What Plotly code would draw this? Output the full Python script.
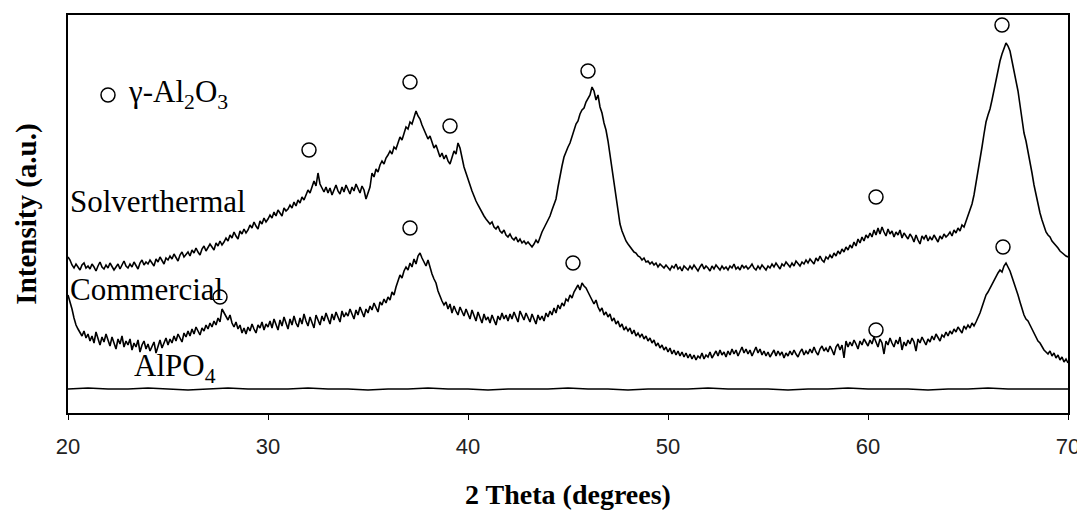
import plotly.graph_objects as go

# 2-theta grid for the two noisy patterns (0.1 degree step, 20..70)
two_theta = [round(20 + 0.1 * i, 1) for i in range(501)]

solverthermal = [
    156, 153, 148, 145, 149, 146, 143, 148, 150, 145,
    147, 144, 149, 146, 142, 147, 151, 146, 144, 148,
    145, 150, 147, 143, 146, 149, 144, 148, 152, 147,
    145, 149, 146, 151, 148, 144, 150, 153, 148, 151,
    149, 153, 150, 147, 154, 151, 156, 152, 149, 155,
    153, 157, 154, 159, 156, 152, 158, 161, 156, 159,
    161, 157, 163, 160, 165, 161, 158, 164, 167, 162,
    165, 169, 166, 163, 170, 167, 172, 168, 171, 175,
    172, 178, 175, 181, 177, 174, 182, 179, 184, 180,
    183, 188, 185, 191, 187, 184, 192, 189, 195, 191,
    194, 198, 195, 201, 197, 203, 200, 197, 205, 202,
    204, 208, 205, 211, 207, 213, 210, 216, 213, 219,
    223, 220, 226, 232, 227, 240, 229, 224, 221, 226,
    220, 225, 218, 223, 228, 222, 219, 226, 221, 228,
    224, 219, 226, 222, 229, 224, 220, 227, 223, 214,
    221, 226, 240, 236, 244, 241, 248, 252, 249, 255,
    258, 262, 259, 266, 264, 271, 276, 273, 281, 286,
    284, 291, 289, 296, 302, 297, 294, 288, 283, 278,
    274, 277, 270, 265, 268, 262, 256, 260, 254, 258,
    252, 249, 256, 262, 259, 270, 265, 255, 246, 240,
    235, 228, 222, 216, 212, 208, 204, 201, 197, 194,
    192, 189, 191, 186, 184, 187, 182, 180, 183, 178,
    176, 179, 175, 173, 176, 171, 174, 170, 172, 169,
    171, 168, 166, 169, 173, 170, 176, 181, 185, 189,
    192, 197, 203, 209, 214, 226, 238, 247, 256, 262,
    266, 270, 276, 284, 289, 292, 299, 303, 305, 311,
    314, 318, 326, 322, 313, 318, 306, 300, 290, 283,
    272, 258, 242, 228, 212, 200, 189, 182, 176, 172,
    169, 166, 164, 161, 160, 157, 156, 153, 155, 151,
    152, 149, 151, 148, 150, 146, 149, 147, 145, 148,
    146, 143, 147, 145, 149, 144, 146, 142, 147, 145,
    143, 147, 144, 148, 145, 142, 146, 149, 144, 147,
    145, 142, 147, 144, 148, 145, 143, 147, 144, 146,
    143, 147, 145, 149, 144, 146, 143, 148, 145, 147,
    144, 146, 149, 145, 143, 147, 144, 148, 146, 143,
    147, 145, 149, 146, 150, 147, 144, 149, 147, 151,
    148, 146, 150, 147, 152, 149, 147, 151, 149, 153,
    150, 154, 151, 149, 155, 152, 157, 153, 151, 156,
    154, 158, 155, 160, 157, 162, 159, 164, 161, 166,
    163, 168, 165, 171, 167, 174, 170, 176, 172, 178,
    175, 180, 176, 183, 178, 185, 179, 186, 181, 177,
    184, 179, 182, 176, 181, 178, 183, 175, 180, 177,
    174, 179, 176, 171, 178, 173, 169, 177, 174, 178,
    172, 176, 173, 178, 175, 171, 177, 174, 179, 176,
    178, 181, 177, 183, 180, 185, 182, 188, 186, 192,
    198, 203, 209, 218, 229, 240, 253, 266, 279, 291,
    298, 304, 313, 323, 333, 343, 352, 359, 365, 370,
    367, 362, 352, 343, 334, 322, 308, 292, 280, 272,
    262, 250, 240, 228, 218, 208, 200, 193, 187, 181,
    178, 176, 172, 170, 167, 165, 162, 160, 158, 157,
    156,
]

commercial = [
    118, 112, 104, 95, 88, 84, 80, 77, 82, 75,
    79, 72, 77, 70, 81, 74, 68, 76, 71, 79,
    73, 67, 76, 70, 64, 74, 69, 77, 66, 72,
    68, 74, 63, 70, 66, 73, 61, 68, 72, 64,
    69, 62, 67, 71, 60, 66, 73, 65, 70, 75,
    68, 74, 70, 77, 72, 79, 75, 71, 80, 76,
    82, 77, 84, 79, 86, 81, 78, 85, 82, 88,
    84, 90, 86, 92, 88, 95, 91, 104, 100, 97,
    93, 98, 90, 86, 91, 84, 88, 80, 85, 79,
    86, 82, 89, 84, 80, 88, 85, 91, 83, 89,
    86, 92, 85, 94, 88, 83, 93, 87, 96, 89,
    84, 94, 88, 97, 90, 86, 95, 89, 99, 92,
    87, 96, 91, 85, 98, 93, 88, 97, 92, 100,
    94, 89, 99, 93, 101, 95, 91, 102, 96, 100,
    97, 104, 99, 94, 103, 98, 106, 101, 96, 104,
    100, 107, 103, 110, 105, 101, 111, 108, 114, 110,
    116, 113, 121, 118, 126, 133, 138, 135, 142, 146,
    143, 150, 146, 154, 149, 157, 160, 155, 151, 147,
    153, 145, 139, 134, 130, 122, 116, 112, 108, 111,
    104, 109, 100, 107, 102, 98, 106, 101, 97, 104,
    99, 94, 103, 97, 92, 101, 95, 90, 99, 93,
    96, 90, 98, 92, 88, 97, 93, 100, 94, 98,
    92, 99, 94, 101, 96, 91, 102, 97, 93, 100,
    95, 91, 99, 94, 89, 98, 93, 97, 92, 100,
    96, 102, 98, 105, 100, 108, 104, 110, 107, 114,
    112, 118, 115, 121, 124, 128, 123, 130, 127, 125,
    121, 117, 112, 109, 113, 106, 102, 105, 98, 101,
    96, 99, 92, 95, 89, 92, 86, 89, 83, 86,
    82, 85, 79, 83, 77, 80, 76, 79, 74, 77,
    72, 75, 70, 73, 67, 70, 65, 68, 63, 66,
    61, 65, 59, 63, 58, 62, 57, 61, 56, 60,
    55, 59, 54, 58, 53, 57, 55, 60, 54, 58,
    56, 61, 55, 59, 62, 57, 63, 58, 61, 56,
    62, 58, 64, 59, 63, 57, 62, 66, 60, 64,
    59, 63, 57, 62, 66, 60, 64, 58, 62, 57,
    61, 56, 60, 63, 57, 62, 58, 61, 55, 60,
    57, 62, 58, 63, 59, 56, 61, 64, 58, 62,
    59, 64, 60, 66, 61, 58, 64, 67, 62, 65,
    61, 67, 63, 58, 66, 69, 63, 68, 55, 72,
    66, 71, 67, 73, 69, 64, 72, 68, 74, 70,
    67, 73, 69, 76, 71, 66, 74, 70, 59, 72,
    68, 75, 70, 66, 73, 69, 76, 63, 71, 67,
    73, 69, 75, 71, 62, 74, 70, 76, 72, 68,
    74, 71, 77, 73, 79, 75, 72, 78, 76, 81,
    77, 82, 79, 84, 81, 86, 83, 80, 87, 84,
    88, 85, 90, 87, 91, 95, 100, 106, 113, 118,
    121, 125, 128, 133, 136, 140, 143, 141, 147, 150,
    146, 142, 136, 130, 126, 118, 111, 104, 98, 94,
    92, 88, 84, 79, 76, 72, 70, 66, 63, 61,
    59, 62, 57, 60, 55, 58, 53, 56, 51, 54,
    50,
]

# AlPO4: essentially flat, 1 degree step
alpo4_theta = list(range(20, 71))
alpo4 = [24, 25, 24, 24, 25, 24, 23, 24, 25, 24,
         24, 24, 25, 24, 24, 23, 24, 24, 25, 24,
         24, 23, 24, 24, 24, 25, 24, 24, 23, 24,
         24, 24, 25, 24, 24, 24, 23, 24, 24, 25,
         24, 24, 24, 23, 24, 24, 25, 24, 24, 24, 24]

# gamma-Al2O3 reflection markers
solv_marker_theta = [32.05, 37.1, 39.1, 46.0, 60.4, 66.7]
solv_marker_int = [263, 331, 287, 342, 216, 388]
comm_marker_theta = [27.6, 37.1, 45.25, 60.4, 66.75]
comm_marker_int = [116, 185, 150, 83, 166]
legend_marker_theta = [22.0]
legend_marker_int = [318]

x_ticks = [20, 30, 40, 50, 60, 70]

fig = go.Figure()
line_style = dict(color="black", width=1.6)
fig.add_trace(go.Scatter(x=two_theta, y=solverthermal, mode="lines", line=line_style,
                         name="Solverthermal", showlegend=False))
fig.add_trace(go.Scatter(x=two_theta, y=commercial, mode="lines", line=line_style,
                         name="Commercial", showlegend=False))
fig.add_trace(go.Scatter(x=alpo4_theta, y=alpo4, mode="lines", line=line_style,
                         name="AlPO4", showlegend=False))
marker_style = dict(symbol="circle-open", size=14, color="black", line=dict(width=1.5, color="black"))
for xs, ys in [(solv_marker_theta, solv_marker_int),
               (comm_marker_theta, comm_marker_int),
               (legend_marker_theta, legend_marker_int)]:
    fig.add_trace(go.Scatter(x=xs, y=ys, mode="markers", marker=marker_style,
                             showlegend=False, cliponaxis=False, hoverinfo="skip"))

serif = "Liberation Serif, Times New Roman, serif"
ann_font = dict(family=serif, size=31, color="black")
fig.add_annotation(x=20, y=212, xref="x", yref="y", text="Solverthermal", showarrow=False,
                   xanchor="left", yanchor="middle", font=ann_font)
fig.add_annotation(x=20, y=124, xref="x", yref="y", text="Commercial", showarrow=False,
                   xanchor="left", yanchor="middle", font=ann_font)
fig.add_annotation(x=23.2, y=45, xref="x", yref="y", text="AlPO<sub>4</sub>", showarrow=False,
                   xanchor="left", yanchor="middle", font=ann_font)
fig.add_annotation(x=22.9, y=319, xref="x", yref="y", text="γ-Al<sub>2</sub>O<sub>3</sub>",
                   showarrow=False, xanchor="left", yanchor="middle", font=ann_font)

# page body has an 8px margin, so the figure is sized to fit the window from (8, 8)
fig.update_layout(
    width=1077, height=509,
    margin=dict(l=60, r=17, t=7, b=104),
    paper_bgcolor="white", plot_bgcolor="white",
    showlegend=False,
)
fig.update_xaxes(
    range=[20, 70], tickvals=x_ticks, ticktext=[str(t) for t in x_ticks],
    showline=True, linecolor="black", linewidth=1.5, mirror=True,
    ticks="outside", ticklen=5, tickcolor="black", tickwidth=1,
    showgrid=False, zeroline=False,
    tickfont=dict(family="Liberation Sans, Arial, sans-serif", size=22, color="#222"),
    ticklabelstandoff=8,
    title=dict(text="<b>2 Theta (degrees)</b>", font=dict(family=serif, size=28, color="black"),
               standoff=26),
    automargin=False,
)
fig.update_yaxes(
    range=[0, 398], showticklabels=False, ticks="",
    showline=True, linecolor="black", linewidth=1.5, mirror=True,
    showgrid=False, zeroline=False,
    title=dict(text="<b>Intensity (a.u.)</b>", font=dict(family=serif, size=29, color="black"),
               standoff=21),
    automargin=False,
)

fig.write_html("out.html")
